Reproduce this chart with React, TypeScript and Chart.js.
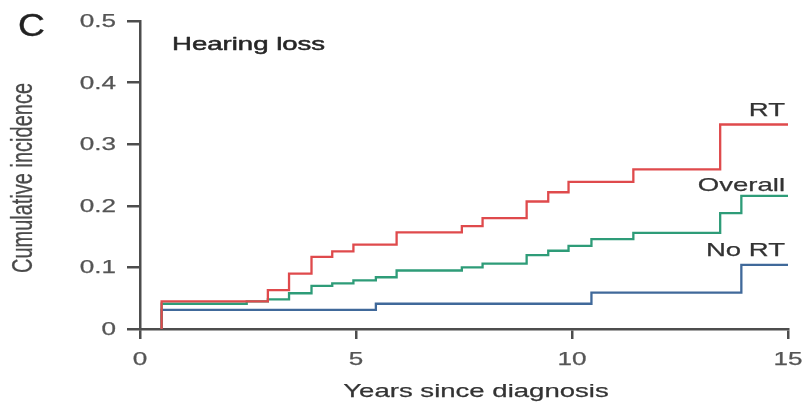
import { useEffect, useRef } from "react";
import { Chart, registerables } from "chart.js";

Chart.register(...registerables);

// ---- data ----
// each curve is 0 until the first event at 0.5 years
const rtYears = [0.5, 0.5, 2.96, 3.45, 3.97, 4.45, 4.94, 5.94, 7.45, 7.93, 8.95, 9.45, 9.92, 11.42, 13.43, 15];
const rtIncidence = [0, 0.045, 0.063, 0.09, 0.117, 0.126, 0.137, 0.157, 0.167, 0.18, 0.207, 0.222, 0.239, 0.259, 0.332, 0.332];

const overallYears = [0.5, 0.5, 2.47, 2.96, 3.45, 3.97, 4.45, 4.94, 5.46, 5.94, 7.45, 7.93, 8.95, 9.45, 9.92, 10.45, 11.42, 13.43, 13.92, 15];
const overallIncidence = [0, 0.041, 0.045, 0.048, 0.058, 0.07, 0.074, 0.079, 0.084, 0.095, 0.1, 0.106, 0.12, 0.127, 0.135, 0.146, 0.156, 0.188, 0.216, 0.216];

const noRtYears = [0.5, 0.5, 5.46, 10.45, 13.92, 15];
const noRtIncidence = [0, 0.031, 0.041, 0.059, 0.104, 0.104];

const seriesNames = ["RT", "Overall", "No RT"];
const seriesColors = ["#df4a4c", "#2e9c78", "#40699a"];
const labelOffsets = [8, 5, 9];

const xTickValues = [0, 5, 10, 15];
const yTickValues = [0, 0.1, 0.2, 0.3, 0.4, 0.5];

const panelLetter = "C";
const panelTitle = "Hearing loss";
const xTitle = "Years since diagnosis";
const yTitle = "Cumulative incidence";

const FONT = '"Liberation Sans", Arial, Helvetica, sans-serif';
const SX = 1.45;

const toPoints = (xs: number[], ys: number[]) => xs.map((x, i) => ({ x, y: ys[i] }));

const textPlugin = {
  id: "stretchedText",
  afterDraw(chart: any) {
    const ctx: CanvasRenderingContext2D = chart.ctx;
    const xs = chart.scales.x;
    const ys = chart.scales.y;
    const area = chart.chartArea;
    const draw = (
      text: string,
      x: number,
      y: number,
      size: number,
      color: string,
      align: CanvasTextAlign,
      sx: number,
      rot = false,
      baseline: CanvasTextBaseline = "alphabetic",
      stroke = 0.25
    ) => {
      ctx.save();
      ctx.translate(x, y);
      ctx.scale(sx, 1);
      if (rot) ctx.rotate(-Math.PI / 2);
      ctx.font = `normal ${size}px ${FONT}`;
      ctx.fillStyle = color;
      ctx.strokeStyle = color;
      ctx.lineWidth = stroke;
      ctx.lineJoin = "round";
      ctx.textAlign = align;
      ctx.textBaseline = baseline;
      ctx.fillText(text, 0, 0);
      if (stroke > 0) ctx.strokeText(text, 0, 0);
      ctx.restore();
    };

    // x tick labels
    xTickValues.forEach((v) => {
      draw(String(v), xs.getPixelForValue(v), area.bottom + 36, 18, "#555", "center", SX);
    });
    // y tick labels
    yTickValues.forEach((v) => {
      const label = v === 0 ? "0" : v.toFixed(1);
      draw(label, area.left - 24, ys.getPixelForValue(v) + 1, 18, "#555", "right", SX, false, "middle");
    });
    // axis titles
    draw(xTitle, (area.left + area.right) / 2 + 12, area.bottom + 68, 19, "#333", "center", SX);
    draw(yTitle, 24, (area.top + area.bottom) / 2 + 3, 20, "#4a4a4a", "center", SX, true, "middle", 0.2);
    // panel letter & title
    draw(panelLetter, 18, 36, 31, "#222", "left", 1.2, false, "alphabetic", 0.4);
    draw(panelTitle, area.left + 32, 50, 19, "#262626", "left", SX, false, "alphabetic", 0.5);

    // series labels
    const lastVals = [rtIncidence, overallIncidence, noRtIncidence].map((a) => a[a.length - 1]);
    seriesNames.forEach((name, i) => {
      draw(name, xs.getPixelForValue(15) - 3, ys.getPixelForValue(lastVals[i]) - labelOffsets[i], 19, "#333", "right", SX);
    });
  },
};

export default function App() {
  const ref = useRef<HTMLCanvasElement | null>(null);

  useEffect(() => {
    if (!ref.current) return;
    const axisColor = "#4d4d4d";
    const chart = new Chart(ref.current, {
      type: "line",
      data: {
        datasets: [
          { label: seriesNames[0], data: toPoints(rtYears, rtIncidence), borderColor: seriesColors[0] },
          { label: seriesNames[1], data: toPoints(overallYears, overallIncidence), borderColor: seriesColors[1] },
          { label: seriesNames[2], data: toPoints(noRtYears, noRtIncidence), borderColor: seriesColors[2] },
        ].map((d) => ({
          ...d,
          stepped: true,
          fill: false,
          borderWidth: 2.3,
          pointRadius: 0,
          tension: 0,
        })),
      },
      options: {
        animation: false,
        responsive: false,
        devicePixelRatio: 1,
        layout: { padding: { left: 0, top: 21, right: 14, bottom: 0 } },
        plugins: { legend: { display: false }, tooltip: { enabled: false } },
        scales: {
          x: {
            type: "linear",
            min: 0,
            max: 15,
            afterBuildTicks: (s: any) => {
              s.ticks = xTickValues.map((v) => ({ value: v }));
            },
            afterFit: (s: any) => {
              s.height = 79;
            },
            ticks: { display: false },
            grid: {
              display: true,
              drawOnChartArea: false,
              drawTicks: true,
              tickLength: 10,
              color: axisColor,
              lineWidth: 2.5,
            },
            border: { display: true, color: axisColor, width: 2.5 },
          },
          y: {
            type: "linear",
            min: 0,
            max: 0.5,
            afterBuildTicks: (s: any) => {
              s.ticks = yTickValues.map((v) => ({ value: v }));
            },
            afterFit: (s: any) => {
              s.width = 140;
            },
            ticks: { display: false },
            grid: {
              display: true,
              drawOnChartArea: false,
              drawTicks: true,
              tickLength: 13,
              color: axisColor,
              lineWidth: 2.5,
            },
            border: { display: true, color: axisColor, width: 2.5 },
          },
        },
      },
      plugins: [textPlugin],
    });
    return () => chart.destroy();
  }, []);

  return (
    <div style={{ position: "fixed", left: 0, top: 0, width: 802, height: 408, background: "#fff" }}>
      <canvas ref={ref} width={802} height={408} style={{ display: "block" }} />
    </div>
  );
}
